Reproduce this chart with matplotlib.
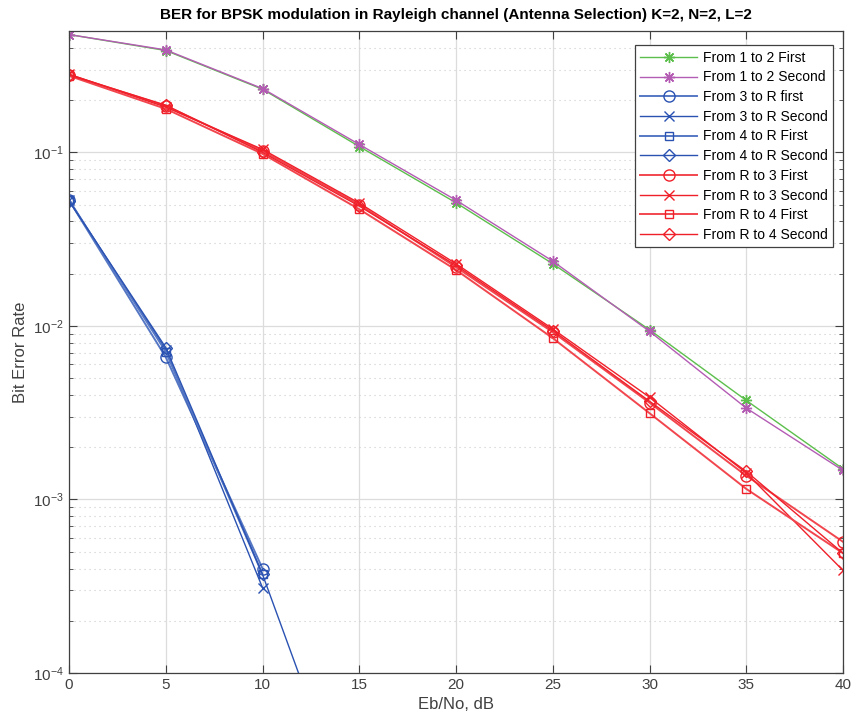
import numpy as np
import matplotlib
matplotlib.use('Agg')
import matplotlib.pyplot as plt
from matplotlib.ticker import LogLocator, NullFormatter

plt.rcParams['font.family'] = ['Liberation Sans', 'DejaVu Sans']

nan = np.nan
snr_db = [0, 5, 10, 15, 20, 25, 30, 35, 40]

# direct links 1 <-> 2
ber_12_first = [0.477, 0.386, 0.231, 0.108, 0.0512, 0.0228, 0.0095, 0.00372, 0.00150]
ber_12_second = [0.477, 0.389, 0.233, 0.111, 0.0530, 0.0236, 0.0093, 0.00336, 0.00147]

# users -> relay
ber_3R_first = [0.0530, 0.0066, 4.0e-4, nan, nan, nan, nan, nan, nan]
ber_3R_second = [0.0528, 0.0073, 3.1e-4, nan, nan, nan, nan, nan, nan]
ber_4R_first = [0.0532, 0.0071, 3.7e-4, nan, nan, nan, nan, nan, nan]
ber_4R_second = [0.0526, 0.0075, 3.7e-4, 1.1e-5, nan, nan, nan, nan, nan]

# relay -> users
ber_R3_first = [0.280, 0.185, 0.102, 0.0500, 0.0218, 0.0092, 0.00361, 0.00137, 5.7e-4]
ber_R3_second = [0.282, 0.182, 0.104, 0.0510, 0.0228, 0.0096, 0.00388, 0.00142, 3.9e-4]
ber_R4_first = [0.276, 0.178, 0.098, 0.0470, 0.0210, 0.0085, 0.00314, 0.00115, 4.9e-4]
ber_R4_second = [0.279, 0.187, 0.100, 0.0490, 0.0223, 0.0094, 0.00368, 0.00145, 4.9e-4]

labels = ['From 1 to 2 First', 'From 1 to 2 Second', 'From 3 to R first',
          'From 3 to R Second', 'From 4 to R First', 'From 4 to R Second',
          'From R to 3 First', 'From R to 3 Second', 'From R to 4 First',
          'From R to 4 Second']

green = '#5cbf4c'
magenta = '#b45cb4'
blue = '#2a52b2'
blue_lt = '#5577c4'
red = '#f0202a'
red_lt = '#f2464e'

asterisk = (8, 2, 0)

fig = plt.figure(figsize=(8.53, 7.26), dpi=100)
ax = fig.add_axes([0.0809, 0.073, 0.9074, 0.8843])

series = [
    (ber_12_first, green, asterisk, 1.0, 8),
    (ber_12_second, magenta, asterisk, 1.0, 8),
    (ber_3R_first, blue_lt, 'o', 1.4, 8),
    (ber_3R_second, blue, 'x', 1.0, 6.5),
    (ber_4R_first, blue_lt, 's', 1.4, 6),
    (ber_4R_second, blue, 'D', 1.0, 6),
    (ber_R3_first, red_lt, 'o', 1.4, 8),
    (ber_R3_second, red, 'x', 1.0, 6.5),
    (ber_R4_first, red_lt, 's', 1.4, 6),
    (ber_R4_second, red, 'D', 1.0, 6),
]

for (y, c, m, lw, ms), lab in zip(series, labels):
    mc = red if c == red_lt else (blue if c == blue_lt else c)
    ax.semilogy(snr_db, y, color=c, lw=lw, marker=m, markersize=ms,
                markerfacecolor='none', markeredgecolor=mc, markeredgewidth=1.0,
                label=lab)

ax.set_xlim(0, 40)
ax.set_ylim(1e-4, 0.5)
ax.set_xticks(range(0, 41, 5))
ax.yaxis.set_major_locator(LogLocator(base=10, numticks=10))
ax.yaxis.set_minor_locator(LogLocator(base=10, subs=np.arange(2, 10), numticks=20))
ax.yaxis.set_minor_formatter(NullFormatter())

ax.grid(True, which='major', color='#dcdcdc', lw=0.9, ls='-')
ax.grid(True, which='minor', axis='y', color='#cccccc', lw=0.8, ls=(0, (1, 3.5)))
ax.set_axisbelow(True)

ax.tick_params(which='both', direction='in', top=True, right=True,
               colors='#404040', labelcolor='#404040', labelsize=11)
ax.tick_params(which='major', length=6)
ax.tick_params(which='minor', length=3)
for s in ax.spines.values():
    s.set_color('#404040')
    s.set_linewidth(0.9)

ax.set_title('BER for BPSK modulation in Rayleigh channel (Antenna Selection) K=2, N=2, L=2',
             fontsize=11, fontweight='bold', pad=9)
ax.set_xlabel('Eb/No, dB', fontsize=12, color='#404040')
ax.set_ylabel('Bit Error Rate', fontsize=12, color='#404040')

leg = ax.legend(loc='upper right', bbox_to_anchor=(0.987, 0.978), numpoints=1,
                handlelength=4.1, fontsize=10, fancybox=False, framealpha=1,
                borderpad=0.4, labelspacing=0.41, handletextpad=0.4,
                borderaxespad=0)
leg.get_frame().set_edgecolor('#404040')
leg.get_frame().set_linewidth(0.9)

fig.savefig('out.png', dpi=100)
